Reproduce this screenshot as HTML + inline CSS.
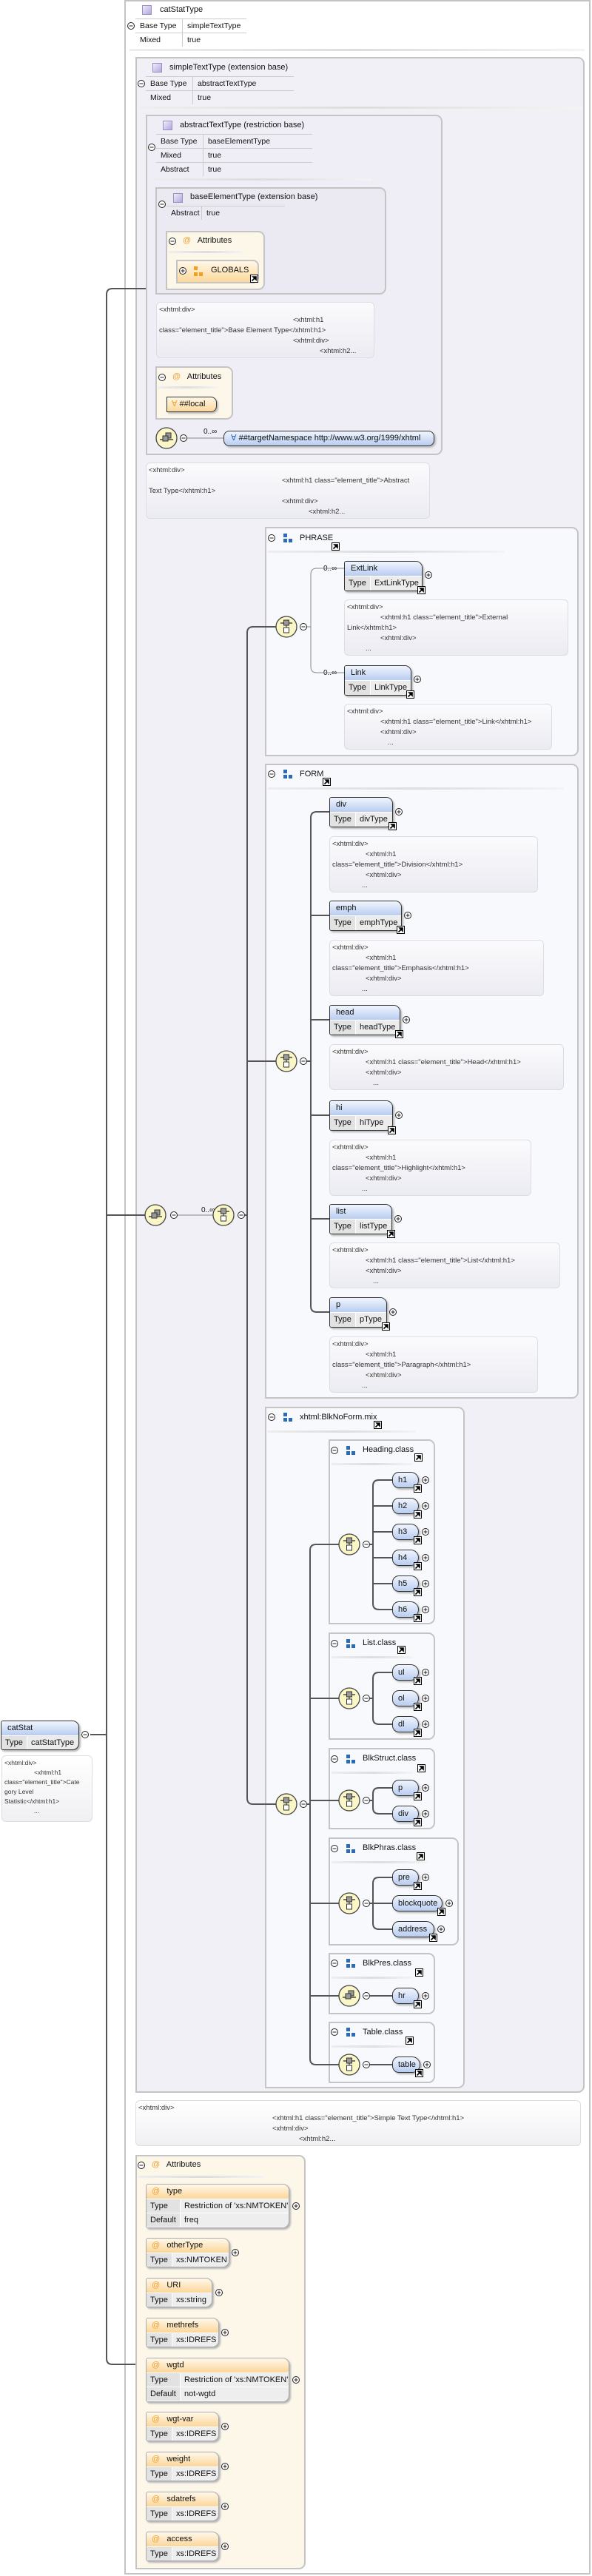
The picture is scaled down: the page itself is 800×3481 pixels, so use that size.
<!DOCTYPE html>
<html><head><meta charset="utf-8">
<style>
*{margin:0;padding:0;box-sizing:border-box}
body{width:800px;height:3481px;position:relative;background:#fff;font-family:"Liberation Sans",Arial,sans-serif;font-size:11px;color:#111;overflow:hidden}
.a{position:absolute}
.bx{position:absolute;border:2px solid #c4c4c4;border-radius:0 9px 9px 0}
.lav{background:#f2f0f7}
.grp{background:#f7f9fd}
.att{background:#fdf7ea}
.ic{position:absolute;width:13px;height:13px;border:1px solid #9a90c0;background:linear-gradient(135deg,#f0ecfb,#b3a6dd)}
.t{position:absolute;font-size:11px;white-space:nowrap}
.tb{position:absolute}
.tr{display:flex;height:19px;line-height:18px;border-top:1px solid #ccc;font-size:10.5px}
.tr span{padding-left:6px;white-space:nowrap}
.tr span:first-child{border-right:1px solid #ccc}
.sep{position:absolute;height:3px;background:linear-gradient(90deg,#eee,#ddd,#f4f4f4)}
.an{position:absolute;border:1px solid #dcdce4;border-radius:6px;background:linear-gradient(#fbfbfd,#ebebf2);font-size:9.5px;color:#333;padding:3px;line-height:14px;white-space:pre;overflow:hidden}
.el{position:absolute;border:1px solid #333;border-radius:3px 9px 9px 3px;background:#ececec;box-shadow:2px 2px 2px #b5b5b5;overflow:hidden;font-size:11px}
.el .h{height:20px;line-height:19px;padding-left:8px;background:linear-gradient(#f0f5fd,#b9cdf1);border-bottom:1px solid #fff}
.el .r{display:flex;height:19px;line-height:19px}
.el .r span{padding-left:5px;white-space:nowrap}
.el .r span:first-child{background:#e2e2e2;border-right:1px solid #fff}
.ae{position:absolute;border:1px solid #aaa;border-radius:3px 9px 9px 3px;background:#eee;box-shadow:2px 2px 2px #b5b5b5;overflow:hidden;font-size:11px}
.ae .h{height:20px;line-height:19px;padding-left:7px;background:linear-gradient(#fff8ea,#fcd69a);border-bottom:1px solid #fff}
.ae .r{display:flex;height:19px;line-height:19px;border-bottom:1px solid #fff}
.ae .r span{padding-left:5px;white-space:nowrap}
.ae .r span:first-child{background:#e2e2e2;border-right:1px solid #fff}
.at{color:#f0a030}
.pl{position:absolute;height:22px;border:1px solid #333;border-radius:9px 11px 11px 9px;background:linear-gradient(#f0f5fd,#b9cdf1);font-size:11px;line-height:21px;padding-left:7px;box-shadow:2px 2px 2px #b5b5b5}
</style></head><body>

<!-- outer box -->
<div class="bx" style="left:168px;top:0;width:630px;height:3479px;background:#fff;border-radius:0"></div>
<div class="ic" style="left:192px;top:7px"></div>
<div class="t" style="left:216px;top:7px">catStatType</div>
<div class="tb" style="left:183px;top:25px;width:150px"><div class="tr"><span style="width:64px">Base Type</span><span>simpleTextType</span></div><div class="tr"><span style="width:64px">Mixed</span><span>true</span></div></div>
<div class="sep" style="left:175px;top:66px;width:615px"></div>

<!-- simpleTextType -->
<div class="bx lav" style="left:183px;top:77px;width:607px;height:2751px"></div>
<div class="ic" style="left:206px;top:85px"></div>
<div class="t" style="left:229px;top:85px">simpleTextType (extension base)</div>
<div class="tb" style="left:197px;top:103px;width:200px"><div class="tr"><span style="width:64px">Base Type</span><span>abstractTextType</span></div><div class="tr"><span style="width:64px">Mixed</span><span>true</span></div></div>
<div class="sep" style="left:188px;top:144px;width:600px"></div>

<!-- abstractTextType -->
<div class="bx" style="left:197px;top:155px;width:401px;height:460px;background:#efedf5"></div>
<div class="ic" style="left:220px;top:163px"></div>
<div class="t" style="left:243px;top:163px">abstractTextType (restriction base)</div>
<div class="tb" style="left:211px;top:181px;width:211px"><div class="tr"><span style="width:64px">Base Type</span><span>baseElementType</span></div><div class="tr"><span style="width:64px">Mixed</span><span>true</span></div><div class="tr"><span style="width:64px">Abstract</span><span>true</span></div></div>
<div class="sep" style="left:202px;top:241px;width:300px"></div>

<!-- baseElementType -->
<div class="bx" style="left:210px;top:253px;width:312px;height:145px;background:#ebe9f2"></div>
<div class="ic" style="left:234px;top:261px"></div>
<div class="t" style="left:257px;top:260px">baseElementType (extension base)</div>
<div class="tb" style="left:225px;top:278px;width:160px"><div class="tr"><span style="width:48px">Abstract</span><span>true</span></div></div>

<div class="bx att" style="left:224px;top:312px;width:134px;height:80px"></div>
<div class="t" style="left:247px;top:319px"><span class="at">@</span>&nbsp;&nbsp; Attributes</div>
<div class="sep" style="left:228px;top:339px;width:100px"></div>
<div class="a" style="left:238px;top:351px;width:112px;height:32px;border:2px solid #c4c4c4;border-radius:0 8px 8px 0;background:linear-gradient(#fff7e6,#fcd89c)"></div>
<div class="a" style="left:262px;top:360px;width:5px;height:5px;background:#f0a020"></div>
<div class="a" style="left:262px;top:368px;width:5px;height:5px;background:#f0a020"></div>
<div class="a" style="left:269px;top:368px;width:5px;height:5px;background:#f0a020"></div>
<div class="t" style="left:285px;top:359px">GLOBALS</div>

<div class="an" style="left:211px;top:408px;width:295px;height:76px"><div>&lt;xhtml:div&gt;</div><div style="padding-left:181px">&lt;xhtml:h1</div><div>class="element_title"&gt;Base Element Type&lt;/xhtml:h1&gt;</div><div style="padding-left:181px">&lt;xhtml:div&gt;</div><div style="padding-left:217px">&lt;xhtml:h2...</div></div>

<div class="bx att" style="left:210px;top:495px;width:105px;height:72px"></div>
<div class="t" style="left:233px;top:503px"><span class="at">@</span>&nbsp;&nbsp; Attributes</div>
<div class="sep" style="left:214px;top:522px;width:80px"></div>
<div class="a" style="left:225px;top:536px;width:68px;height:21px;border:1px solid #333;border-radius:0 8px 8px 0;background:linear-gradient(#fff7e6,#fcd89c);font-size:11px;line-height:19px;padding-left:6px;box-shadow:2px 2px 2px #bbb"><span class="at">∀</span> ##local</div>

<div class="a" style="left:302px;top:582px;width:285px;height:21px;border:1px solid #333;border-radius:8px;background:linear-gradient(#f0f5fd,#b9cdf1);font-size:11px;line-height:19px;padding-left:9px;box-shadow:2px 2px 2px #bbb;white-space:nowrap"><span style="color:#2a6ab8">∀</span> ##targetNamespace http://www.w3.org/1999/xhtml</div>

<div class="an" style="left:197px;top:625px;width:384px;height:76px"><div>&lt;xhtml:div&gt;</div><div style="padding-left:180px">&lt;xhtml:h1 class="element_title"&gt;Abstract</div><div>Text Type&lt;/xhtml:h1&gt;</div><div style="padding-left:180px">&lt;xhtml:div&gt;</div><div style="padding-left:216px">&lt;xhtml:h2...</div></div>

<!-- PHRASE -->
<div class="bx grp" style="left:358px;top:712px;width:424px;height:310px"></div>
<div class="t" style="left:405px;top:721px">PHRASE</div>
<div class="sep" style="left:362px;top:744px;width:320px"></div>
<div class="t" style="left:437px;top:763px;font-size:10px">0..∞</div>
<div class="el" style="left:465px;top:758px;width:106px;height:41px"><div class="h">ExtLink</div><div class="r"><span style="width:35px">Type</span><span>ExtLinkType</span></div></div>
<div class="an" style="left:465px;top:810px;width:303px;height:76px"><div>&lt;xhtml:div&gt;</div><div style="padding-left:45px">&lt;xhtml:h1 class="element_title"&gt;External</div><div>Link&lt;/xhtml:h1&gt;</div><div style="padding-left:45px">&lt;xhtml:div&gt;</div><div style="padding-left:25px">...</div></div>
<div class="t" style="left:437px;top:904px;font-size:10px">0..∞</div>
<div class="el" style="left:465px;top:899px;width:91px;height:41px"><div class="h">Link</div><div class="r"><span style="width:35px">Type</span><span>LinkType</span></div></div>
<div class="an" style="left:465px;top:951px;width:281px;height:62px"><div>&lt;xhtml:div&gt;</div><div style="padding-left:45px">&lt;xhtml:h1 class="element_title"&gt;Link&lt;/xhtml:h1&gt;</div><div style="padding-left:45px">&lt;xhtml:div&gt;</div><div style="padding-left:55px">...</div></div>

<!-- FORM -->
<div class="bx grp" style="left:358px;top:1032px;width:424px;height:858px"></div>
<div class="t" style="left:405px;top:1040px">FORM</div>
<div class="sep" style="left:362px;top:1064px;width:400px"></div>

<div class="el" style="left:445px;top:1077px;width:86px;height:41px"><div class="h">div</div><div class="r"><span style="width:35px">Type</span><span>divType</span></div></div>
<div class="an" style="left:445px;top:1130px;width:282px;height:76px"><div>&lt;xhtml:div&gt;</div><div style="padding-left:45px">&lt;xhtml:h1</div><div>class="element_title"&gt;Division&lt;/xhtml:h1&gt;</div><div style="padding-left:45px">&lt;xhtml:div&gt;</div><div style="padding-left:40px">...</div></div>

<div class="el" style="left:445px;top:1217px;width:98px;height:41px"><div class="h">emph</div><div class="r"><span style="width:35px">Type</span><span>emphType</span></div></div>
<div class="an" style="left:445px;top:1270px;width:290px;height:76px"><div>&lt;xhtml:div&gt;</div><div style="padding-left:45px">&lt;xhtml:h1</div><div>class="element_title"&gt;Emphasis&lt;/xhtml:h1&gt;</div><div style="padding-left:45px">&lt;xhtml:div&gt;</div><div style="padding-left:40px">...</div></div>

<div class="el" style="left:445px;top:1358px;width:96px;height:41px"><div class="h">head</div><div class="r"><span style="width:35px">Type</span><span>headType</span></div></div>
<div class="an" style="left:445px;top:1411px;width:317px;height:62px"><div>&lt;xhtml:div&gt;</div><div style="padding-left:45px">&lt;xhtml:h1 class="element_title"&gt;Head&lt;/xhtml:h1&gt;</div><div style="padding-left:45px">&lt;xhtml:div&gt;</div><div style="padding-left:55px">...</div></div>

<div class="el" style="left:445px;top:1487px;width:86px;height:41px"><div class="h">hi</div><div class="r"><span style="width:35px">Type</span><span>hiType</span></div></div>
<div class="an" style="left:445px;top:1540px;width:273px;height:76px"><div>&lt;xhtml:div&gt;</div><div style="padding-left:45px">&lt;xhtml:h1</div><div>class="element_title"&gt;Highlight&lt;/xhtml:h1&gt;</div><div style="padding-left:45px">&lt;xhtml:div&gt;</div><div style="padding-left:40px">...</div></div>

<div class="el" style="left:445px;top:1627px;width:85px;height:41px"><div class="h">list</div><div class="r"><span style="width:35px">Type</span><span>listType</span></div></div>
<div class="an" style="left:445px;top:1679px;width:312px;height:62px"><div>&lt;xhtml:div&gt;</div><div style="padding-left:45px">&lt;xhtml:h1 class="element_title"&gt;List&lt;/xhtml:h1&gt;</div><div style="padding-left:45px">&lt;xhtml:div&gt;</div><div style="padding-left:55px">...</div></div>

<div class="el" style="left:445px;top:1753px;width:78px;height:41px"><div class="h">p</div><div class="r"><span style="width:35px">Type</span><span>pType</span></div></div>
<div class="an" style="left:445px;top:1806px;width:282px;height:76px"><div>&lt;xhtml:div&gt;</div><div style="padding-left:45px">&lt;xhtml:h1</div><div>class="element_title"&gt;Paragraph&lt;/xhtml:h1&gt;</div><div style="padding-left:45px">&lt;xhtml:div&gt;</div><div style="padding-left:40px">...</div></div>

<!-- BlkNoForm -->
<div class="bx grp" style="left:358px;top:1901px;width:270px;height:921px"></div>
<div class="t" style="left:405px;top:1909px">xhtml:BlkNoForm.mix</div>
<div class="sep" style="left:362px;top:1933px;width:200px"></div>

<div class="bx grp" style="left:444px;top:1945px;width:144px;height:250px"></div>
<div class="t" style="left:490px;top:1953px">Heading.class</div>
<div class="sep" style="left:448px;top:1977px;width:110px"></div>
<div class="pl" style="left:530px;top:1989px;width:36px">h1</div>
<div class="pl" style="left:530px;top:2024px;width:36px">h2</div>
<div class="pl" style="left:530px;top:2059px;width:36px">h3</div>
<div class="pl" style="left:530px;top:2094px;width:36px">h4</div>
<div class="pl" style="left:530px;top:2129px;width:36px">h5</div>
<div class="pl" style="left:530px;top:2164px;width:36px">h6</div>

<div class="bx grp" style="left:444px;top:2206px;width:144px;height:145px"></div>
<div class="t" style="left:490px;top:2214px">List.class</div>
<div class="sep" style="left:448px;top:2238px;width:110px"></div>
<div class="pl" style="left:530px;top:2249px;width:36px">ul</div>
<div class="pl" style="left:530px;top:2284px;width:36px">ol</div>
<div class="pl" style="left:530px;top:2319px;width:36px">dl</div>

<div class="bx grp" style="left:444px;top:2362px;width:144px;height:110px"></div>
<div class="t" style="left:490px;top:2370px">BlkStruct.class</div>
<div class="sep" style="left:448px;top:2394px;width:110px"></div>
<div class="pl" style="left:530px;top:2405px;width:36px">p</div>
<div class="pl" style="left:530px;top:2440px;width:36px">div</div>

<div class="bx grp" style="left:444px;top:2483px;width:176px;height:146px"></div>
<div class="t" style="left:490px;top:2491px">BlkPhras.class</div>
<div class="sep" style="left:448px;top:2515px;width:130px"></div>
<div class="pl" style="left:530px;top:2526px;width:36px">pre</div>
<div class="pl" style="left:530px;top:2561px;width:68px">blockquote</div>
<div class="pl" style="left:530px;top:2596px;width:57px">address</div>

<div class="bx grp" style="left:444px;top:2639px;width:144px;height:83px"></div>
<div class="t" style="left:490px;top:2647px">BlkPres.class</div>
<div class="sep" style="left:448px;top:2671px;width:110px"></div>
<div class="pl" style="left:530px;top:2686px;width:36px">hr</div>

<div class="bx grp" style="left:444px;top:2732px;width:144px;height:83px"></div>
<div class="t" style="left:490px;top:2740px">Table.class</div>
<div class="sep" style="left:448px;top:2764px;width:110px"></div>
<div class="pl" style="left:530px;top:2779px;width:38px">table</div>

<!-- simple text annotation -->
<div class="an" style="left:183px;top:2838px;width:602px;height:62px;background:linear-gradient(#fff,#f0f0f3)"><div>&lt;xhtml:div&gt;</div><div style="padding-left:181px">&lt;xhtml:h1 class="element_title"&gt;Simple Text Type&lt;/xhtml:h1&gt;</div><div style="padding-left:181px">&lt;xhtml:div&gt;</div><div style="padding-left:217px">&lt;xhtml:h2...</div></div>

<!-- Attributes -->
<div class="bx att" style="left:183px;top:2912px;width:230px;height:560px"></div>
<div class="t" style="left:205px;top:2919px"><span class="at">@</span>&nbsp;&nbsp; Attributes</div>
<div class="sep" style="left:187px;top:2940px;width:170px"></div>

<div class="ae" style="left:197px;top:2951px;width:194px;height:60px"><div class="h"><span class="at">@</span>&nbsp;&nbsp; type</div><div class="r"><span style="width:46px">Type</span><span>Restriction of 'xs:NMTOKEN'</span></div><div class="r"><span style="width:46px">Default</span><span>freq</span></div></div>
<div class="ae" style="left:197px;top:3024px;width:113px;height:40px"><div class="h"><span class="at">@</span>&nbsp;&nbsp; otherType</div><div class="r"><span style="width:35px">Type</span><span>xs:NMTOKEN</span></div></div>
<div class="ae" style="left:197px;top:3078px;width:90px;height:40px"><div class="h"><span class="at">@</span>&nbsp;&nbsp; URI</div><div class="r"><span style="width:35px">Type</span><span>xs:string</span></div></div>
<div class="ae" style="left:197px;top:3132px;width:99px;height:40px"><div class="h"><span class="at">@</span>&nbsp;&nbsp; methrefs</div><div class="r"><span style="width:35px">Type</span><span>xs:IDREFS</span></div></div>
<div class="ae" style="left:197px;top:3186px;width:194px;height:60px"><div class="h"><span class="at">@</span>&nbsp;&nbsp; wgtd</div><div class="r"><span style="width:46px">Type</span><span>Restriction of 'xs:NMTOKEN'</span></div><div class="r"><span style="width:46px">Default</span><span>not-wgtd</span></div></div>
<div class="ae" style="left:197px;top:3259px;width:99px;height:40px"><div class="h"><span class="at">@</span>&nbsp;&nbsp; wgt-var</div><div class="r"><span style="width:35px">Type</span><span>xs:IDREFS</span></div></div>
<div class="ae" style="left:197px;top:3313px;width:99px;height:40px"><div class="h"><span class="at">@</span>&nbsp;&nbsp; weight</div><div class="r"><span style="width:35px">Type</span><span>xs:IDREFS</span></div></div>
<div class="ae" style="left:197px;top:3367px;width:99px;height:40px"><div class="h"><span class="at">@</span>&nbsp;&nbsp; sdatrefs</div><div class="r"><span style="width:35px">Type</span><span>xs:IDREFS</span></div></div>
<div class="ae" style="left:197px;top:3421px;width:99px;height:40px"><div class="h"><span class="at">@</span>&nbsp;&nbsp; access</div><div class="r"><span style="width:35px">Type</span><span>xs:IDREFS</span></div></div>

<!-- catStat -->
<div class="el" style="left:1px;top:2325px;width:106px;height:40px"><div class="h">catStat</div><div class="r"><span style="width:35px">Type</span><span>catStatType</span></div></div>
<div class="an" style="left:2px;top:2372px;width:123px;height:90px;font-size:8.5px;line-height:13px;background:linear-gradient(#fff,#f0f0f3)"><div>&lt;xhtml:div&gt;</div><div style="padding-left:40px">&lt;xhtml:h1</div><div>class="element_title"&gt;Cate</div><div>gory Level</div><div>Statistic&lt;/xhtml:h1&gt;</div><div style="padding-left:40px">...</div></div>

<div class="t" style="left:272px;top:1630px;font-size:10px">0..∞</div>
<div class="t" style="left:275px;top:578px;font-size:10px">0..∞</div>

<svg class="a" style="left:0;top:0" width="800" height="3481" viewBox="0 0 800 3481">
<defs>
<g id="ch"><circle r="14" fill="#fbf6c6" stroke="#444" stroke-width="1.3"/><line x1="-8" y1="-5" x2="8" y2="-5" stroke="#222" stroke-width="1.2"/><rect x="-3.5" y="-9" width="7" height="7" fill="#999" stroke="#333"/><line x1="0" y1="-2" x2="0" y2="1" stroke="#222"/><rect x="-3.5" y="1" width="7" height="7" fill="#fff" stroke="#333"/></g>
<g id="sq"><circle r="14" fill="#fbf6c6" stroke="#444" stroke-width="1.3"/><line x1="-9" y1="2" x2="9" y2="2" stroke="#222" stroke-width="1.2"/><rect x="-1" y="-7" width="7" height="7" fill="#999" stroke="#333"/><rect x="-5" y="-3" width="7" height="7" fill="#999" stroke="#333"/></g>
<g id="mi"><circle r="4.5" fill="#fff" stroke="#222"/><line x1="-2.5" y1="0" x2="2.5" y2="0" stroke="#222"/></g>
<g id="pu"><circle r="4.5" fill="#fff" stroke="#222"/><line x1="-2.5" y1="0" x2="2.5" y2="0" stroke="#222"/><line x1="0" y1="-2.5" x2="0" y2="2.5" stroke="#222"/></g>
<g id="sc"><rect x="0.5" y="0.5" width="10" height="10" fill="#fff" stroke="#000"/><path d="M2.5 8.5 L7 4 M4 3 H8 V7 Z" stroke="#000" stroke-width="1.6" fill="#000"/></g>
<g id="gi"><rect x="0" y="0" width="5" height="5" fill="#2a6ab8"/><rect x="0" y="7" width="5" height="5" fill="#2a6ab8"/><rect x="7" y="7" width="5" height="5" fill="#2a6ab8"/></g>
</defs>
<g fill="none" stroke="#555" stroke-width="2">
<path d="M197 390 H152 Q144 390 144 398 V3187 Q144 3195 152 3195 H183"/>
<path d="M122 2344 H144"/>
<path d="M144 1642 H196"/>
<path d="M331 1642 H334"/>
<path d="M373 847 H342 Q334 847 334 855 V2430 Q334 2438 342 2438 H373"/>
<path d="M334 1434 H373"/>
<path d="M415 1434 H420"/>
<path d="M445 1097 H428 Q420 1097 420 1105 V1765 Q420 1773 428 1773 H445"/>
<path d="M420 1237 H445 M420 1378 H445 M420 1507 H445 M420 1647 H445"/>
<path d="M415 2438 H419"/>
<path d="M458 2087 H427 Q419 2087 419 2095 V2782 Q419 2790 427 2790 H458"/>
<path d="M419 2295 H458 M419 2433 H458 M419 2572 H458 M419 2697 H458"/>
<path d="M500 2087 H504 M530 2000 H512 Q504 2000 504 2008 V2167 Q504 2175 512 2175 H530 M504 2035 H530 M504 2070 H530 M504 2105 H530 M504 2140 H530"/>
<path d="M500 2295 H504 M530 2260 H512 Q504 2260 504 2268 V2322 Q504 2330 512 2330 H530"/>
<path d="M500 2433 H504 M530 2416 H512 Q504 2416 504 2424 V2443 Q504 2451 512 2451 H530"/>
<path d="M500 2572 H530 M530 2537 H512 Q504 2537 504 2545 V2599 Q504 2607 512 2607 H530"/>
<path d="M500 2697 H530 M500 2790 H530"/>
</g>
<g fill="none" stroke="#888" stroke-width="1">
<path d="M253 592 H302"/>
<path d="M240 1642 H288"/>
<path d="M415 847 H420 M465 768 H428 Q420 768 420 776 V901 Q420 909 428 909 H465"/>
</g>
<use href="#sq" x="225" y="592"/><use href="#mi" x="248" y="592"/>
<use href="#sq" x="210" y="1642"/><use href="#mi" x="235" y="1642"/>
<use href="#ch" x="302" y="1642"/><use href="#mi" x="326" y="1642"/>
<use href="#ch" x="387" y="847"/><use href="#mi" x="410" y="847"/>
<use href="#ch" x="387" y="1434"/><use href="#mi" x="410" y="1434"/>
<use href="#ch" x="387" y="2438"/><use href="#mi" x="410" y="2438"/>
<use href="#ch" x="472" y="2087"/><use href="#mi" x="495" y="2087"/>
<use href="#ch" x="472" y="2295"/><use href="#mi" x="495" y="2295"/>
<use href="#ch" x="472" y="2433"/><use href="#mi" x="495" y="2433"/>
<use href="#ch" x="472" y="2572"/><use href="#mi" x="495" y="2572"/>
<use href="#sq" x="472" y="2697"/><use href="#mi" x="495" y="2697"/>
<use href="#ch" x="472" y="2790"/><use href="#mi" x="495" y="2790"/>
<use href="#mi" x="115" y="2344"/>
<use href="#mi" x="177" y="35"/><use href="#mi" x="191" y="113"/><use href="#mi" x="205" y="199"/><use href="#mi" x="219" y="276"/>
<use href="#mi" x="233" y="326"/><use href="#mi" x="219" y="510"/><use href="#mi" x="191" y="2926"/>
<use href="#pu" x="247" y="366"/>
<use href="#mi" x="367" y="727"/><use href="#mi" x="367" y="1046"/><use href="#mi" x="367" y="1915"/>
<use href="#mi" x="452" y="1960"/><use href="#mi" x="452" y="2221"/><use href="#mi" x="452" y="2377"/><use href="#mi" x="452" y="2498"/><use href="#mi" x="452" y="2653"/><use href="#mi" x="452" y="2746"/>
<use href="#gi" x="383" y="721"/><use href="#gi" x="383" y="1040"/><use href="#gi" x="383" y="1909"/>
<use href="#gi" x="468" y="1954"/><use href="#gi" x="468" y="2215"/><use href="#gi" x="468" y="2371"/><use href="#gi" x="468" y="2492"/><use href="#gi" x="468" y="2647"/><use href="#gi" x="468" y="2740"/>
<use href="#pu" x="579" y="777"/><use href="#pu" x="564" y="918"/>
<use href="#pu" x="539" y="1097"/><use href="#pu" x="551" y="1237"/><use href="#pu" x="549" y="1378"/><use href="#pu" x="539" y="1507"/><use href="#pu" x="538" y="1647"/><use href="#pu" x="531" y="1773"/>
<use href="#pu" x="575" y="2000"/><use href="#pu" x="575" y="2035"/><use href="#pu" x="575" y="2070"/><use href="#pu" x="575" y="2105"/><use href="#pu" x="575" y="2140"/><use href="#pu" x="575" y="2175"/>
<use href="#pu" x="575" y="2260"/><use href="#pu" x="575" y="2295"/><use href="#pu" x="575" y="2330"/>
<use href="#pu" x="575" y="2416"/><use href="#pu" x="575" y="2451"/>
<use href="#pu" x="575" y="2537"/><use href="#pu" x="607" y="2572"/><use href="#pu" x="596" y="2607"/>
<use href="#pu" x="575" y="2697"/><use href="#pu" x="577" y="2790"/>
<use href="#pu" x="400" y="2981"/><use href="#pu" x="318" y="3044"/><use href="#pu" x="296" y="3098"/><use href="#pu" x="304" y="3152"/>
<use href="#pu" x="400" y="3216"/><use href="#pu" x="304" y="3279"/><use href="#pu" x="304" y="3333"/><use href="#pu" x="304" y="3387"/><use href="#pu" x="304" y="3441"/>
<use href="#sc" x="338" y="371"/>
<use href="#sc" x="448" y="733"/><use href="#sc" x="436" y="1051"/><use href="#sc" x="505" y="1920"/>
<use href="#sc" x="560" y="1964"/><use href="#sc" x="537" y="2224"/><use href="#sc" x="564" y="2384"/><use href="#sc" x="563" y="2503"/><use href="#sc" x="561" y="2660"/><use href="#sc" x="548" y="2752"/>
<use href="#sc" x="564" y="792"/><use href="#sc" x="549" y="933"/>
<use href="#sc" x="525" y="1111"/><use href="#sc" x="536" y="1251"/><use href="#sc" x="534" y="1392"/><use href="#sc" x="524" y="1522"/><use href="#sc" x="523" y="1662"/><use href="#sc" x="516" y="1787"/>
<use href="#sc" x="559" y="2006"/><use href="#sc" x="559" y="2041"/><use href="#sc" x="559" y="2076"/><use href="#sc" x="559" y="2111"/><use href="#sc" x="559" y="2146"/><use href="#sc" x="559" y="2181"/>
<use href="#sc" x="559" y="2266"/><use href="#sc" x="559" y="2301"/><use href="#sc" x="559" y="2336"/>
<use href="#sc" x="559" y="2422"/><use href="#sc" x="559" y="2457"/>
<use href="#sc" x="559" y="2543"/><use href="#sc" x="591" y="2578"/><use href="#sc" x="580" y="2613"/>
<use href="#sc" x="559" y="2703"/><use href="#sc" x="561" y="2796"/>
</svg>
</body></html>
